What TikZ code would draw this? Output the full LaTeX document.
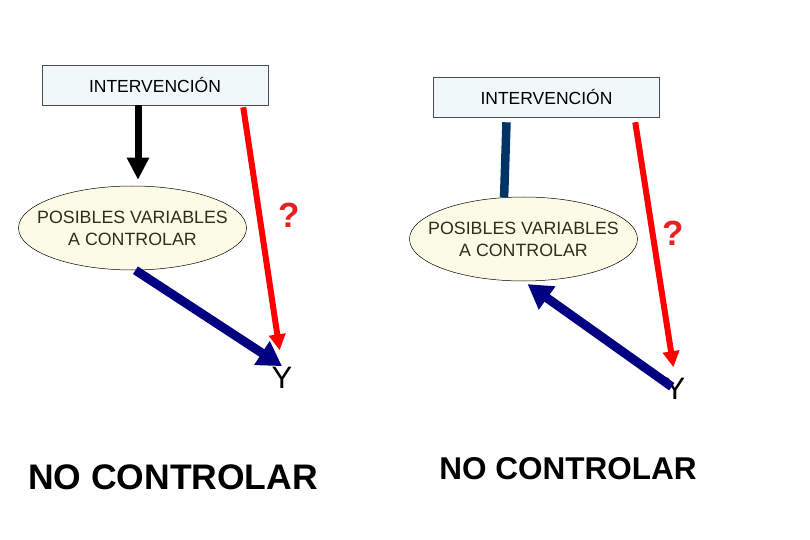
\documentclass[tikz,border=0pt]{standalone}
\usepackage{fontspec}
\setmainfont{Liberation Sans}
\usepackage{xcolor}
\usetikzlibrary{shapes.geometric}
\usetikzlibrary{arrows.meta}
\usetikzlibrary{positioning}

\definecolor{boxfill}{HTML}{F1F8F9}
\definecolor{ellfill}{HTML}{FCFCE6}
\definecolor{elltext}{HTML}{2E2E1C}
\definecolor{navyline}{HTML}{000080}
\definecolor{steelline}{HTML}{003366}
\definecolor{qred}{HTML}{E52020}

\begin{document}
\begin{tikzpicture}[
    x=1bp, y=-1bp,
    interv/.style={rectangle, draw=black!70, line width=0.6bp, fill=boxfill,
      minimum width=226bp, minimum height=40bp, inner sep=0pt,
      font=\fontsize{17.5bp}{21bp}\selectfont},
    varbox/.style={ellipse, draw, line width=0.5bp, fill=ellfill, text=elltext,
      minimum width=228bp, minimum height=84bp, inner xsep=-16bp, inner ysep=0pt,
      align=center, font=\fontsize{17.8bp}{22bp}\selectfont},
    qmark/.style={text=qred, font=\bfseries\fontsize{35bp}{35bp}\selectfont},
    outc/.style={font=\fontsize{31bp}{31bp}\selectfont, inner sep=1bp},
    verdict/.style={font=\bfseries\fontsize{#1}{#1}\selectfont},
    blackarrow/.style={line width=7bp, -{Triangle[width=21bp,length=22bp]}},
    redarrow/.style={red, line width=6bp, -{Triangle[width=16bp,length=16bp]}},
    navyarrow/.style={navyline, line width=9bp, -{Triangle[width=27bp,length=24bp]}},
    steel/.style={steelline, line width=8.5bp},
  ]
  \useasboundingbox (0,0) rectangle (810,540);

  % left diagram
  \node[interv] (intL) at (155, 85)    {INTERVENCIÓN};
  \node[varbox] (varL) at (132.5, 228) {POSIBLES VARIABLES\\A CONTROLAR};
  \node[qmark]  (qL)   at (289, 215)   {?};
  \node[outc]   (yL)   at (282, 378)   {Y};
  \node[verdict=35.5bp] (ncL) at (173, 477) {NO CONTROLAR};

  \draw[blackarrow] (intL.south -| 138,0) -- ([yshift=6bp]varL.north -| 138,0);
  \draw[redarrow, shorten <=2bp, shorten >=16bp] (intL.-13) -- (yL.north);
  \draw[navyarrow] (varL.-86) -- (yL.north);

  % right diagram
  \node[interv] (intR) at (546.5, 97)  {INTERVENCIÓN};
  \node[varbox] (varR) at (523.5, 239) {POSIBLES VARIABLES\\A CONTROLAR};
  \node[qmark]  (qR)   at (673, 233)   {?};
  \node[outc]   (yR)   at (675, 389)   {Y};
  \node[verdict=31.5bp] (ncR) at (568, 469) {NO CONTROLAR};

  \draw[steel, shorten <=5bp] (intR.-153) -- (varR.115);
  \draw[redarrow, shorten <=5bp, shorten >=10bp] (intR.-13) -- (yR.north);
  \draw[navyarrow, shorten <=4bp, shorten >=5bp] (yR.center) -- (varR.south);

\end{tikzpicture}
\end{document}
